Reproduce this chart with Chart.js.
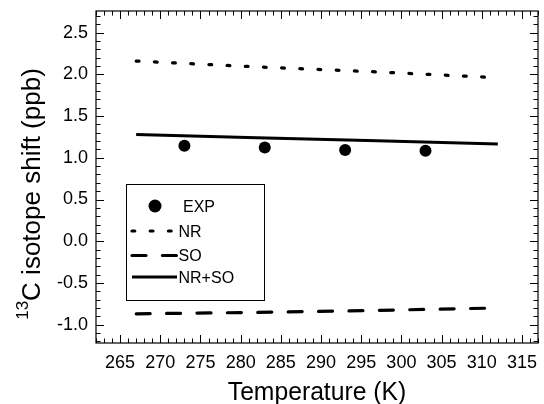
<!DOCTYPE html>
<html>
<head>
<meta charset="utf-8">
<script src="https://cdn.jsdelivr.net/npm/chart.js@4"></script>
<style>
  html, body { margin: 0; padding: 0; background: #fff; }
  #wrap { width: 544px; height: 404px; }
</style>
</head>
<body>
<div id="wrap"><canvas id="c" width="544" height="404"></canvas></div>
<script>
// Calculated curves (temperature in K, shift in ppb)
const lineTemps = [267, 282, 297, 312];
const nrShift   = [2.16, 2.09, 2.03, 1.96];
const soShift   = [-0.87, -0.853, -0.829, -0.80];
const nrsoShift = [1.28, 1.242, 1.204, 1.165];

// Measured points
const expTemps = [273, 283, 293, 303];
const expShift = [1.145, 1.125, 1.095, 1.085];

// Axis ticks
const xTickValues = [265, 270, 275, 280, 285, 290, 295, 300, 305, 310, 315];
const yTickValues = [-1.0, -0.5, 0.0, 0.5, 1.0, 1.5, 2.0, 2.5];

const seriesNames = ['EXP', 'NR', 'SO', 'NR+SO'];

const FONT = '"Liberation Sans", Arial, Helvetica, sans-serif';

function pts(xs, ys) { return xs.map((x, i) => ({ x: x, y: ys[i] })); }

// Closed frame with inward major/minor ticks on all four sides
const framePlugin = {
  id: 'frame',
  afterDatasetsDraw(chart) {
    const { ctx, chartArea: a, scales } = chart;
    const xs = scales.x, ys = scales.y;
    ctx.save();
    ctx.strokeStyle = '#000';
    ctx.lineWidth = 1.2;
    ctx.strokeRect(a.left, a.top, a.right - a.left, a.bottom - a.top);
    ctx.lineWidth = 1;
    ctx.beginPath();
    // x: minor every 1 K, major every 5 K
    for (let k = Math.ceil(xs.min); k <= Math.floor(xs.max); k++) {
      const px = Math.round(xs.getPixelForValue(k)) + 0.5;
      const len = xTickValues.includes(k) ? 8 : 4.5;
      ctx.moveTo(px, a.bottom); ctx.lineTo(px, a.bottom - len);
      ctx.moveTo(px, a.top); ctx.lineTo(px, a.top + len);
    }
    // y: minor every 0.1, major every 0.5
    for (let k = Math.ceil(ys.min * 10); k <= Math.floor(ys.max * 10); k++) {
      const v = k / 10;
      const py = Math.round(ys.getPixelForValue(v)) + 0.5;
      const len = (k % 5 === 0) ? 8 : 4.5;
      ctx.moveTo(a.left, py); ctx.lineTo(a.left + len, py);
      ctx.moveTo(a.right, py); ctx.lineTo(a.right - len, py);
    }
    ctx.stroke();
    ctx.restore();
  }
};

// Axis titles (the y title carries a superscript mass number)
const titlePlugin = {
  id: 'titles',
  afterDraw(chart) {
    const { ctx, chartArea: a } = chart;
    ctx.save();
    ctx.fillStyle = '#000';
    ctx.textBaseline = 'alphabetic';
    ctx.textAlign = 'left';

    // x title
    ctx.font = '26px ' + FONT;
    const xt = 'Temperature (K)';
    const xw = ctx.measureText(xt).width * 0.95;
    ctx.save();
    ctx.translate((a.left + a.right) / 2 - xw / 2, 400);
    ctx.scale(0.95, 1);
    ctx.fillText(xt, 0, 0);
    ctx.restore();

    // y title
    ctx.save();
    ctx.translate(40, 194);
    ctx.rotate(-Math.PI / 2);
    ctx.font = '17px ' + FONT;
    const sup = '13';
    const sw = ctx.measureText(sup).width;
    ctx.font = '26px ' + FONT;
    const main = 'C isotope shift (ppb)';
    const mw = ctx.measureText(main).width;
    const start = -(sw + mw) / 2;
    ctx.font = '17px ' + FONT;
    ctx.fillText(sup, start, -12);
    ctx.font = '26px ' + FONT;
    ctx.fillText(main, start + sw, 0);
    ctx.restore();

    ctx.restore();
  }
};

// Boxed legend inside the plot area, styled from the datasets
const legendPlugin = {
  id: 'boxLegend',
  afterDraw(chart) {
    const { ctx } = chart;
    const box = { l: 126, t: 184, r: 264, b: 300 };
    const rowY = [206, 231, 255.5, 277];
    ctx.save();
    ctx.fillStyle = '#fff';
    ctx.fillRect(box.l, box.t, box.r - box.l, box.b - box.t);
    ctx.strokeStyle = '#000';
    ctx.lineWidth = 1;
    ctx.strokeRect(box.l + 0.5, box.t + 0.5, box.r - box.l, box.b - box.t);
    chart.data.datasets.forEach((ds, i) => {
      const y = rowY[i];
      ctx.fillStyle = '#000';
      ctx.strokeStyle = '#000';
      if (!ds.showLine) {
        ctx.beginPath();
        ctx.arc(155, y, 6.5, 0, Math.PI * 2);
        ctx.fill();
      } else {
        ctx.save();
        ctx.lineWidth = ds.borderWidth;
        ctx.lineCap = ds.borderCapStyle || 'butt';
        ctx.setLineDash(ds.borderDash || []);
        ctx.beginPath();
        ctx.moveTo(132, y);
        ctx.lineTo(177, y);
        ctx.stroke();
        ctx.restore();
      }
      ctx.font = '16px ' + FONT;
      ctx.textBaseline = 'alphabetic';
      ctx.textAlign = 'left';
      ctx.fillText(ds.label, i === 0 ? 183 : 178.5, y + 5.7);
    });
    ctx.restore();
  }
};

new Chart(document.getElementById('c'), {
  type: 'scatter',
  data: {
    datasets: [
      {
        label: seriesNames[0],
        data: pts(expTemps, expShift),
        showLine: false,
        pointRadius: 6,
        pointHoverRadius: 6,
        pointBackgroundColor: '#000',
        pointBorderWidth: 0
      },
      {
        label: seriesNames[1],
        data: pts(lineTemps, nrShift),
        showLine: true,
        borderColor: '#000',
        borderWidth: 3.2,
        borderDash: [2.8, 15.4],
        borderCapStyle: 'round',
        pointRadius: 0,
        pointHoverRadius: 0
      },
      {
        label: seriesNames[2],
        data: pts(lineTemps, soShift),
        showLine: true,
        borderColor: '#000',
        borderWidth: 3.2,
        borderDash: [14, 16.4],
        borderCapStyle: 'round',
        pointRadius: 0,
        pointHoverRadius: 0
      },
      {
        label: seriesNames[3],
        data: pts(lineTemps, nrsoShift),
        showLine: true,
        borderColor: '#000',
        borderWidth: 3,
        pointRadius: 0,
        pointHoverRadius: 0
      }
    ]
  },
  options: {
    responsive: false,
    animation: false,
    devicePixelRatio: 1,
    layout: { padding: { left: 0, top: 11, right: 4, bottom: 0 } },
    plugins: {
      legend: { display: false },
      tooltip: { enabled: false }
    },
    scales: {
      x: {
        type: 'linear',
        min: 262,
        max: 317,
        grid: { display: false, drawTicks: false },
        border: { display: false },
        afterBuildTicks(scale) { scale.ticks = xTickValues.map(v => ({ value: v })); },
        afterFit(scale) {
          scale.height = 61;
          scale.paddingLeft = 0;
          scale.paddingRight = 0;
        },
        ticks: {
          color: '#000',
          padding: 9,
          maxRotation: 0,
          autoSkip: false,
          font: { family: FONT, size: 18 },
          callback: v => String(v)
        }
      },
      y: {
        type: 'linear',
        min: -1.22,
        max: 2.76,
        grid: { display: false, drawTicks: false },
        border: { display: false },
        afterBuildTicks(scale) { scale.ticks = yTickValues.map(v => ({ value: v })); },
        afterFit(scale) {
          scale.width = 96;
          scale.paddingTop = 0;
          scale.paddingBottom = 0;
        },
        ticks: {
          color: '#000',
          padding: 8,
          autoSkip: false,
          font: { family: FONT, size: 18 },
          callback: v => Number(v).toFixed(1)
        }
      }
    }
  },
  plugins: [framePlugin, titlePlugin, legendPlugin]
});
</script>
</body>
</html>
